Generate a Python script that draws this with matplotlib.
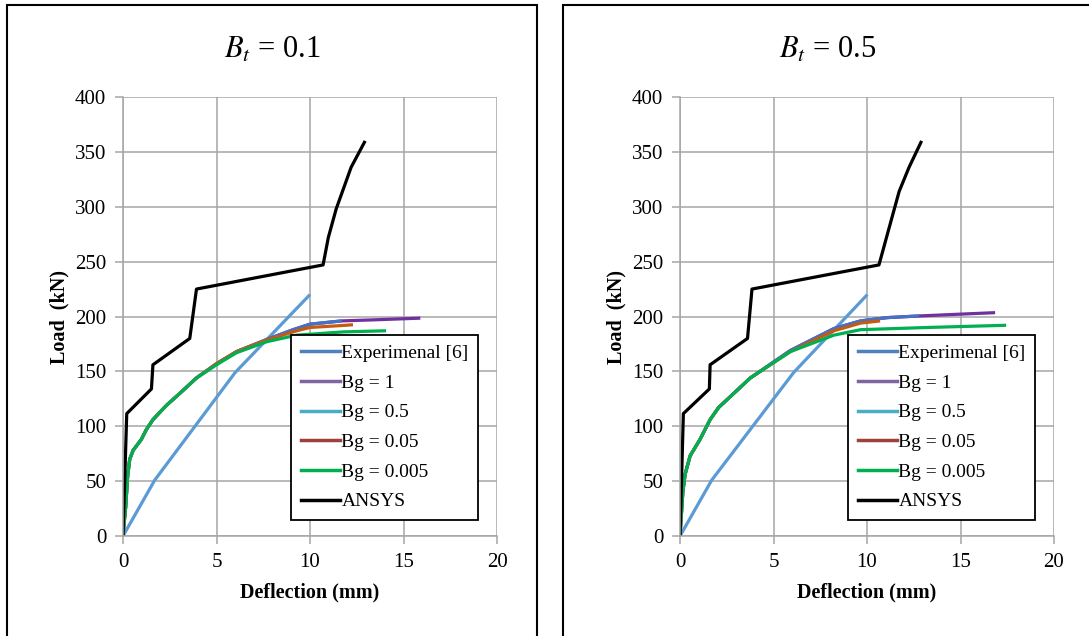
import matplotlib
matplotlib.use("Agg")
import matplotlib.pyplot as plt
from matplotlib.lines import Line2D
from matplotlib.patches import Rectangle

plt.rcParams['font.family'] = ['Liberation Serif', 'DejaVu Serif']
plt.rcParams['mathtext.fontset'] = 'stix'

# ---- data (deflection mm, load kN) ----
# B_t = 0.1
exp_x = [0, 1.7, 6.0, 10.0]
exp_y = [0, 51, 149, 220]

l_bg1_x = [0, 0.05, 0.14, 0.25, 0.36, 0.54, 0.98, 1.25, 1.6, 2.32, 3.04, 3.93, 5.0, 6.07, 7.68, 9.1, 10.0, 11.7, 13.5, 15.9]
l_bg1_y = [0, 10, 26, 55, 70, 78, 88, 97, 106, 119, 130, 144, 157, 168, 179, 188, 193, 196, 197, 198.5]
l_bg05_x = [0, 0.05, 0.14, 0.25, 0.36, 0.54, 0.98, 1.25, 1.6, 2.32, 3.04, 3.93, 5.0, 6.07, 7.68, 9.1, 10.0, 11.7]
l_bg05_y = [0, 10, 26, 55, 70, 78, 88, 97, 106, 119, 130, 144, 157, 168, 179, 188, 193, 196]
l_bg005_x = [0, 0.05, 0.14, 0.25, 0.36, 0.54, 0.98, 1.25, 1.6, 2.32, 3.04, 3.93, 5.0, 6.07, 7.68, 9.29, 10.0, 11.9, 12.3]
l_bg005_y = [0, 10, 26, 55, 70, 78, 88, 97, 106, 119, 130, 144, 157, 168, 178.5, 187, 190, 192, 192.5]
l_bg0005_x = [0, 0.05, 0.14, 0.25, 0.36, 0.54, 0.98, 1.25, 1.6, 2.32, 3.04, 3.93, 5.0, 6.07, 7.68, 9.29, 11.8, 14.07]
l_bg0005_y = [0, 10, 26, 55, 70, 78, 88, 97, 106, 119, 130, 144, 156, 167, 177, 183, 186, 187]
l_ansys_x = [0, 0.2, 1.52, 1.6, 3.57, 3.93, 10.7, 10.98, 11.4, 12.2, 12.95]
l_ansys_y = [0, 111.5, 134, 156, 180, 225, 247, 272, 298, 336, 360]

# B_t = 0.5
r_exp_x = [0, 1.7, 6.08, 10.02]
r_exp_y = [0, 51, 149, 220]
r_bg1_x = [0, 0.04, 0.15, 0.27, 0.54, 1.07, 1.61, 2.06, 3.76, 5.9, 8.23, 9.66, 11.1, 12.8, 14.8, 16.85]
r_bg1_y = [0, 11, 40, 56, 73, 88, 106, 117, 144, 169, 189, 196, 199, 200.5, 202, 203.5]
r_bg05_x = [0, 0.04, 0.15, 0.27, 0.54, 1.07, 1.61, 2.06, 3.76, 5.9, 8.23, 9.66, 11.1, 12.8]
r_bg05_y = [0, 11, 40, 56, 73, 88, 106, 117, 144, 169, 189, 196, 199, 200.5]
r_bg005_x = [0, 0.04, 0.15, 0.27, 0.54, 1.07, 1.61, 2.06, 3.76, 5.9, 8.23, 9.66, 10.7]
r_bg005_y = [0, 11, 40, 56, 73, 88, 106, 117, 144, 168, 187, 194, 196]
r_bg0005_x = [0, 0.04, 0.15, 0.27, 0.54, 1.07, 1.61, 2.06, 3.76, 5.9, 8.23, 9.66, 13.24, 17.44]
r_bg0005_y = [0, 11, 40, 56, 73, 88, 106, 117, 144, 168, 183, 188, 190, 192]
r_ansys_x = [0, 0.18, 1.57, 1.61, 3.61, 3.85, 10.64, 11.09, 11.72, 12.25, 12.92]
r_ansys_y = [0, 111.5, 134, 156, 180, 225, 247, 275, 314, 336, 360]

labels = ["Experimenal [6]", "Bg = 1", "Bg = 0.5", "Bg = 0.05", "Bg = 0.005", "ANSYS"]
line_colors = ["#5B9BD5", "#7030A0", "#4472C4", "#C55A11", "#00B050", "#000000"]
legend_colors = ["#4F81BD", "#8064A2", "#4BACC6", "#A0403C", "#00B050", "#000000"]

panels = [
    ("$B_t$ = 0.1", 123, 272,
     [(exp_x, exp_y), (l_bg1_x, l_bg1_y), (l_bg05_x, l_bg05_y),
      (l_bg005_x, l_bg005_y), (l_bg0005_x, l_bg0005_y), (l_ansys_x, l_ansys_y)]),
    ("$B_t$ = 0.5", 680, 828,
     [(r_exp_x, r_exp_y), (r_bg1_x, r_bg1_y), (r_bg05_x, r_bg05_y),
      (r_bg005_x, r_bg005_y), (r_bg0005_x, r_bg0005_y), (r_ansys_x, r_ansys_y)]),
]

W, H = 1089, 636
fig = plt.figure(figsize=(W / 100, H / 100), dpi=100)

# panel frames
fig.add_artist(Rectangle((7 / W, -0.2), 530 / W, 1.2 - 5 / H,
                         transform=fig.transFigure, fill=False, ec="black", lw=1.5))
fig.add_artist(Rectangle((563 / W, -0.2), 0.6, 1.2 - 5 / H,
                         transform=fig.transFigure, fill=False, ec="black", lw=1.5))

grid_c = "#A6A6A6"
for title, x0, tx, series in panels:
    ax = fig.add_axes([x0 / W, 100 / H, 374 / W, 439 / H])
    for (xs, ys), c in zip(series, line_colors):
        ax.plot(xs, ys, color=c, lw=2.3, solid_capstyle="butt")
    ax.set_xlim(0, 20)
    ax.set_ylim(0, 400)
    ax.set_xticks(range(0, 21, 5))
    ax.set_yticks(range(0, 401, 50))
    ax.grid(True, color=grid_c, lw=1.1)
    ax.set_axisbelow(True)
    for s in ["top", "right"]:
        ax.spines[s].set_visible(False)
    for s in ["left", "bottom"]:
        ax.spines[s].set_color(grid_c)
        ax.spines[s].set_linewidth(1.1)
    ax.tick_params(direction="out", length=6, width=1.1, color=grid_c,
                   labelsize=15, pad=6)
    ax.set_xlabel("Deflection (mm)", fontsize=14.5, fontweight="bold", labelpad=8)
    ax.set_ylabel("Load  (kN)", fontsize=14.5, fontweight="bold", labelpad=4)

    handles = [Line2D([], [], color=c, lw=2.5) for c in legend_colors]
    leg = ax.legend(handles, labels, loc="lower left", bbox_to_anchor=(0.449, 0.036),
                    fontsize=14, frameon=True, fancybox=False, framealpha=1,
                    edgecolor="black", handlelength=2.0, handletextpad=0.1,
                    labelspacing=0.62, borderpad=0.5, borderaxespad=0)
    leg.get_frame().set_linewidth(1.3)

    fig.text(tx / W, 1 - 50 / H, title, fontsize=22, ha="center", va="center")

fig.savefig("out.png", dpi=100)
